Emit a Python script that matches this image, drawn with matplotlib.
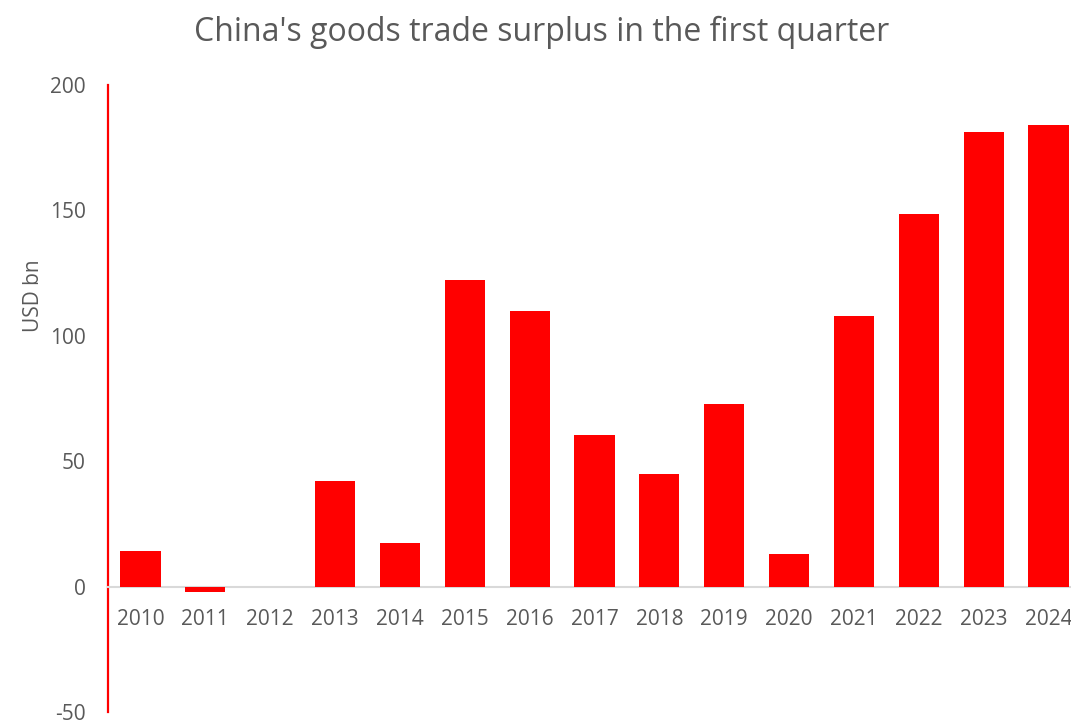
import matplotlib.pyplot as plt

years = ['2010', '2011', '2012', '2013', '2014', '2015', '2016', '2017',
         '2018', '2019', '2020', '2021', '2022', '2023', '2024']
surplus = [14, -2, 0, 42.3, 17.5, 122.4, 110, 60.6, 45, 73, 12.8, 108,
           148.7, 181.4, 184.2]

plt.rcParams['font.family'] = ['Open Sans', 'DejaVu Sans']
plt.rcParams['axes.unicode_minus'] = False
grey = '#595959'

fig = plt.figure(figsize=(10.71, 7.2), dpi=100)
ax = fig.add_axes([108/1071, 8/720, 973/1071, 627/720])

x = range(len(years))
ax.bar(x, surplus, width=0.62, color='#ff0000', zorder=3)

ax.set_xlim(-0.5, len(years) - 0.5)
ax.set_ylim(-50, 200)
ax.set_yticks([-50, 0, 50, 100, 150, 200])

for s in ['top', 'right']:
    ax.spines[s].set_visible(False)
ax.spines['left'].set_color('#ff0000')
ax.spines['left'].set_linewidth(1.6)
ax.spines['bottom'].set_position(('data', 0))
ax.spines['bottom'].set_color('#d9d9d9')
ax.spines['bottom'].set_linewidth(1.5)

ax.set_xticks(list(x))
ax.set_xticklabels(years)
ax.tick_params(axis='x', length=0, pad=16, labelsize=15, labelcolor=grey)
ax.tick_params(axis='y', length=0, pad=16, labelsize=15, labelcolor=grey)

fig.text(0.031, 0.59, 'USD bn', rotation=90, ha='center', va='center',
         fontsize=15, color=grey)
fig.text(0.506, 0.955, "China's goods trade surplus in the first quarter",
         ha='center', va='center', fontsize=23, color=grey)

fig.savefig('out.png', dpi=100)
